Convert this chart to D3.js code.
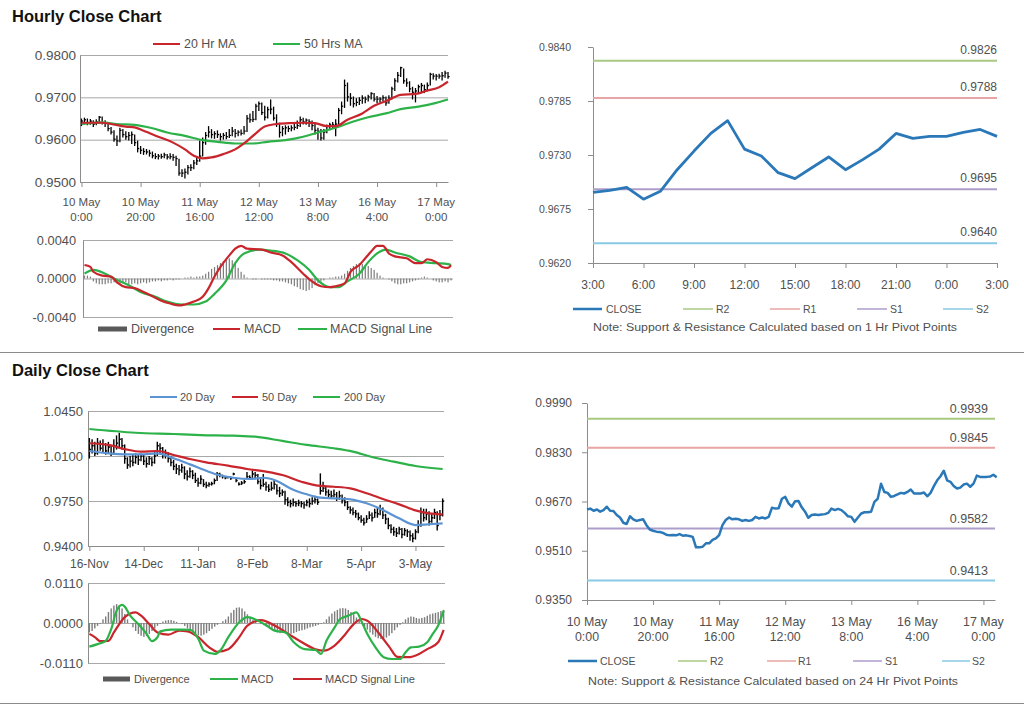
<!DOCTYPE html>
<html><head><meta charset="utf-8">
<script src="https://cdn.jsdelivr.net/npm/d3@7"></script>
<style>body{margin:0;background:#fff;} svg{display:block;font-family:"Liberation Sans",Arial,sans-serif;}</style>
</head><body><svg id="c" width="1024" height="706"></svg>
<script>
// ---------------- DATA ----------------
// Hourly (10 May 0:00 .. 17 May 4:00), trading hours index
const hClose = [0.9644,0.9647,0.9640,0.9644,0.9637,0.9642,0.9653,0.9640,0.9639,0.9626,
0.9618,0.9601,0.9597,0.9622,0.9612,0.9607,0.9610,0.9612,0.9593,0.9579,
0.9575,0.9572,0.9571,0.9568,0.9562,0.9560,0.9561,0.9560,0.9564,0.9559,
0.9560,0.9558,0.9555,0.9521,0.9521,0.9523,0.9534,0.9534,0.9545,0.9550,
0.9561,0.9593,0.9610,0.9618,0.9612,0.9614,0.9612,0.9607,0.9610,0.9607,
0.9610,0.9620,0.9615,0.9618,0.9615,0.9620,0.9650,0.9647,0.9648,0.9679,
0.9685,0.9664,0.9653,0.9671,0.9672,0.9651,0.9637,0.9617,0.9626,0.9628,
0.9626,0.9628,0.9629,0.9633,0.9647,0.9642,0.9646,0.9642,0.9633,0.9622,
0.9620,0.9604,0.9618,0.9631,0.9635,0.9635,0.9637,0.9669,0.9679,0.9728,
0.9701,0.9698,0.9685,0.9688,0.9693,0.9698,0.9696,0.9701,0.9709,0.9696,
0.9696,0.9696,0.9699,0.9687,0.9698,0.9720,0.9739,0.9752,0.9770,0.9739,
0.9734,0.9720,0.9712,0.9715,0.9725,0.9728,0.9718,0.9728,0.9754,0.9750,
0.9750,0.9750,0.9751,0.9757,0.9749];
const hHigh = [0.9650,0.9652,0.9650,0.9649,0.9646,0.9648,0.9656,0.9655,0.9646,0.9641,
0.9630,0.9622,0.9610,0.9628,0.9625,0.9620,0.9618,0.9619,0.9612,0.9598,
0.9585,0.9580,0.9578,0.9576,0.9572,0.9568,0.9566,0.9567,0.9569,0.9566,
0.9568,0.9566,0.9562,0.9555,0.9530,0.9532,0.9540,0.9542,0.9552,0.9560,
0.9598,0.9605,0.9618,0.9632,0.9625,0.9620,0.9622,0.9615,0.9616,0.9618,
0.9625,0.9630,0.9625,0.9622,0.9624,0.9632,0.9658,0.9662,0.9668,0.9685,
0.9690,0.9688,0.9680,0.9678,0.9695,0.9678,0.9660,0.9640,0.9632,0.9634,
0.9633,0.9634,0.9640,0.9645,0.9655,0.9652,0.9650,0.9648,0.9645,0.9638,
0.9628,0.9625,0.9625,0.9636,0.9640,0.9642,0.9648,0.9675,0.9690,0.9742,
0.9735,0.9710,0.9702,0.9698,0.9700,0.9705,0.9702,0.9706,0.9712,0.9710,
0.9703,0.9700,0.9705,0.9702,0.9705,0.9725,0.9745,0.9760,0.9772,0.9768,
0.9745,0.9738,0.9725,0.9722,0.9730,0.9734,0.9730,0.9735,0.9758,0.9757,
0.9755,0.9756,0.9760,0.9763,0.9760];
const hLow = [0.9632,0.9636,0.9634,0.9635,0.9630,0.9634,0.9640,0.9636,0.9630,0.9620,
0.9612,0.9595,0.9585,0.9594,0.9605,0.9600,0.9598,0.9590,0.9585,0.9570,
0.9566,0.9564,0.9565,0.9560,0.9556,0.9554,0.9553,0.9555,0.9556,0.9553,
0.9554,0.9550,0.9538,0.9515,0.9512,0.9508,0.9518,0.9526,0.9530,0.9540,
0.9548,0.9560,0.9588,0.9605,0.9603,0.9602,0.9604,0.9598,0.9600,0.9601,
0.9604,0.9608,0.9605,0.9608,0.9610,0.9612,0.9618,0.9640,0.9642,0.9646,
0.9668,0.9658,0.9645,0.9650,0.9660,0.9645,0.9630,0.9605,0.9608,0.9612,
0.9618,0.9620,0.9622,0.9625,0.9630,0.9636,0.9635,0.9630,0.9622,0.9612,
0.9600,0.9598,0.9600,0.9615,0.9622,0.9625,0.9608,0.9632,0.9660,0.9675,
0.9690,0.9680,0.9676,0.9679,0.9682,0.9685,0.9686,0.9690,0.9695,0.9690,
0.9686,0.9688,0.9690,0.9680,0.9685,0.9695,0.9715,0.9735,0.9748,0.9732,
0.9725,0.9712,0.9695,0.9688,0.9708,0.9712,0.9710,0.9714,0.9728,0.9742,
0.9740,0.9744,0.9740,0.9746,0.9744];
const hMA20 = [[0,0.9640],[7,0.9640],[10,0.9637],[15,0.9631],[18,0.9629],[21,0.9621],[26,0.9607],[31,0.9593],[35,0.9577],[38,0.9562],[41,0.9556],[44,0.9558],[48,0.9566],[52,0.9577],[55,0.9591],[59,0.9615],[62,0.9631],[66,0.9637],[70,0.9639],[75,0.9640],[79,0.9639],[83,0.9632],[86,0.9632],[90,0.9647],[95,0.9662],[99,0.9680],[104,0.9694],[108,0.9706],[113,0.9708],[117,0.9716],[121,0.9724],[124,0.9737]];
const hMA50 = [[0,0.9637],[7,0.9641],[12,0.9637],[18,0.9635],[24,0.9627],[29,0.9617],[35,0.9609],[41,0.9599],[46,0.9595],[52,0.9591],[58,0.9591],[63,0.9595],[69,0.9599],[75,0.9607],[80,0.9617],[86,0.9628],[92,0.9643],[97,0.9653],[103,0.9662],[108,0.9672],[114,0.9678],[120,0.9687],[124,0.9695]];
const hMacd = [[0,0.0014],[2,0.0012],[3,0.0007],[6,0.0003],[9,0.0002],[11,-0.0004],[14,-0.0009],[17,-0.0010],[20,-0.0014],[24,-0.0020],[26,-0.0023],[29,-0.0026],[32,-0.0028],[34,-0.0027],[37,-0.0024],[40,-0.0019],[42,-0.0010],[44,0.0002],[46,0.0012],[49,0.0024],[51,0.0031],[53,0.0034],[55,0.0031],[60,0.0030],[63,0.0027],[67,0.0024],[70,0.0017],[74,0.0005],[77,-0.0003],[80,-0.0008],[83,-0.0009],[85,-0.0008],[88,-0.0005],[90,0.0007],[93,0.0014],[95,0.0021],[97,0.0028],[99,0.0034],[101,0.0034],[103,0.0026],[105,0.0023],[109,0.0021],[112,0.0016],[114,0.0016],[116,0.0020],[119,0.0017],[121,0.0012],[123,0.0011],[124,0.0014]];
const hSignal = [[0,0.0005],[3,0.0009],[7,0.0005],[10,0.0000],[15,-0.0007],[19,-0.0014],[24,-0.0019],[28,-0.0024],[33,-0.0027],[37,-0.0027],[41,-0.0024],[44,-0.0016],[48,-0.0002],[51,0.0016],[54,0.0026],[59,0.0030],[63,0.0029],[68,0.0026],[72,0.0019],[76,0.0009],[79,-0.0002],[83,-0.0009],[86,-0.0009],[89,-0.0003],[93,0.0005],[96,0.0017],[99,0.0026],[102,0.0030],[105,0.0027],[110,0.0023],[114,0.0017],[119,0.0016],[123,0.0015],[124,0.0014]];
const hDiv = [0.0003,0.0003,0.0002,-0.0003,-0.0005,-0.0006,-0.0006,-0.0006,-0.0005,-0.0005,
-0.0004,-0.0005,-0.0006,-0.0005,-0.0004,-0.0006,-0.0006,-0.0005,-0.0006,-0.0005,
-0.0004,-0.0005,-0.0004,-0.0003,-0.0003,-0.0002,-0.0003,-0.0002,-0.0002,-0.0001,
-0.0002,-0.0001,-0.0001,0.0000,0.0001,0.0001,0.0002,0.0001,0.0002,0.0002,
0.0003,0.0005,0.0007,0.0010,0.0012,0.0014,0.0016,0.0018,0.0020,0.0021,
0.0019,0.0015,0.0011,0.0007,0.0004,0.0001,0.0000,-0.0001,-0.0001,0.0000,
-0.0001,-0.0001,-0.0001,-0.0001,-0.0002,-0.0002,-0.0003,-0.0003,-0.0004,-0.0005,
-0.0006,-0.0008,-0.0009,-0.0011,-0.0012,-0.0013,-0.0012,-0.0010,-0.0007,-0.0005,
-0.0003,-0.0002,0.0000,0.0001,0.0001,0.0002,0.0002,0.0003,0.0005,0.0008,
0.0011,0.0013,0.0015,0.0016,0.0015,0.0014,0.0013,0.0011,0.0009,0.0006,
0.0003,0.0001,0.0000,-0.0001,-0.0003,-0.0005,-0.0006,-0.0006,-0.0005,-0.0005,
-0.0004,-0.0003,-0.0002,-0.0001,0.0001,0.0002,0.0001,0.0000,-0.0002,-0.0003,
-0.0004,-0.0004,-0.0003,-0.0004,-0.0002];
const hTickIdx = [0,20,40,60,80,100,120];
const hTickLabels = [["10 May","0:00"],["10 May","20:00"],["11 May","16:00"],["12 May","12:00"],["13 May","8:00"],["16 May","4:00"],["17 May","0:00"]];

// 1 Hr pivot chart (last 24 hours)
const pClose = [0.9692,0.9694,0.9697,0.9685,0.9693,0.9715,0.9734,0.9752,0.9765,0.9736,0.9729,0.9712,0.9706,0.9717,0.9728,0.9715,0.9725,0.9736,0.9752,0.9747,0.9749,0.9749,0.9753,0.9756,0.9749];
const pTickLabels = ["3:00","6:00","9:00","12:00","15:00","18:00","21:00","0:00","3:00"];
const levelNames = ["R2","R1","S1","S2"];
const hrLevels = [0.9826,0.9788,0.9695,0.9640];
const dayLevels = [0.9939,0.9845,0.9582,0.9413];

// Daily (16-Nov .. 17-May), trading day index
const dClose = [1.0150,1.0180,1.0120,1.0200,1.0160,1.0190,1.0140,1.0170,1.0120,1.0180,
1.0200,1.0230,1.0180,1.0080,1.0030,1.0060,1.0050,1.0090,1.0070,1.0100,
1.0060,1.0040,1.0080,1.0050,1.0100,1.0180,1.0160,1.0110,1.0120,1.0080,
1.0050,1.0020,1.0000,0.9990,1.0010,0.9960,0.9940,0.9980,0.9950,0.9910,
0.9890,0.9920,0.9880,0.9870,0.9880,0.9885,0.9910,0.9960,0.9950,0.9940,
0.9930,0.9935,0.9925,0.9960,0.9910,0.9880,0.9890,0.9900,0.9940,0.9930,
0.9960,0.9950,0.9900,0.9870,0.9880,0.9860,0.9840,0.9850,0.9880,0.9830,
0.9810,0.9820,0.9760,0.9740,0.9730,0.9740,0.9730,0.9735,0.9730,0.9720,
0.9740,0.9730,0.9750,0.9760,0.9740,0.9830,0.9850,0.9820,0.9800,0.9790,
0.9800,0.9770,0.9790,0.9760,0.9740,0.9700,0.9680,0.9660,0.9650,0.9620,
0.9600,0.9580,0.9610,0.9640,0.9620,0.9660,0.9650,0.9690,0.9640,0.9610,
0.9560,0.9530,0.9510,0.9500,0.9530,0.9490,0.9520,0.9510,0.9480,0.9460,
0.9510,0.9560,0.9660,0.9620,0.9650,0.9590,0.9620,0.9660,0.9560,0.9640,
0.9749];
const dHigh = [1.0240,1.0230,1.0210,1.0240,1.0220,1.0230,1.0200,1.0210,1.0180,1.0230,
1.0260,1.0280,1.0240,1.0190,1.0090,1.0100,1.0110,1.0120,1.0110,1.0120,
1.0110,1.0090,1.0100,1.0090,1.0130,1.0210,1.0200,1.0170,1.0150,1.0130,
1.0100,1.0070,1.0040,1.0030,1.0040,1.0020,0.9990,1.0010,0.9990,0.9970,
0.9930,0.9950,0.9920,0.9900,0.9895,0.9900,0.9925,0.9975,0.9970,0.9955,
0.9945,0.9945,0.9940,0.9970,0.9925,0.9895,0.9905,0.9915,0.9975,0.9950,
0.9985,0.9975,0.9960,0.9920,0.9960,0.9900,0.9880,0.9900,0.9920,0.9880,
0.9860,0.9840,0.9830,0.9780,0.9760,0.9770,0.9750,0.9760,0.9750,0.9745,
0.9760,0.9770,0.9780,0.9790,0.9770,0.9965,0.9900,0.9860,0.9840,0.9830,
0.9840,0.9820,0.9830,0.9800,0.9780,0.9750,0.9710,0.9700,0.9680,0.9660,
0.9640,0.9620,0.9640,0.9670,0.9660,0.9690,0.9700,0.9720,0.9700,0.9650,
0.9620,0.9570,0.9550,0.9540,0.9550,0.9540,0.9540,0.9530,0.9520,0.9500,
0.9530,0.9600,0.9700,0.9690,0.9690,0.9670,0.9650,0.9690,0.9670,0.9680,
0.9770];
const dLow = [1.0080,1.0120,1.0100,1.0110,1.0140,1.0130,1.0110,1.0120,1.0100,1.0110,
1.0150,1.0170,1.0150,1.0040,1.0000,1.0010,1.0020,1.0040,1.0030,1.0060,
1.0030,1.0010,1.0030,1.0020,1.0040,1.0100,1.0120,1.0080,1.0080,1.0050,
1.0020,0.9990,0.9960,0.9950,0.9970,0.9920,0.9910,0.9930,0.9920,0.9890,
0.9860,0.9880,0.9860,0.9850,0.9860,0.9870,0.9880,0.9905,0.9935,0.9925,
0.9920,0.9925,0.9915,0.9950,0.9895,0.9870,0.9875,0.9885,0.9925,0.9915,
0.9930,0.9920,0.9880,0.9840,0.9860,0.9830,0.9820,0.9830,0.9840,0.9800,
0.9780,0.9790,0.9720,0.9710,0.9700,0.9710,0.9705,0.9710,0.9700,0.9690,
0.9710,0.9700,0.9720,0.9730,0.9720,0.9800,0.9820,0.9790,0.9780,0.9770,
0.9780,0.9750,0.9760,0.9730,0.9710,0.9680,0.9650,0.9640,0.9620,0.9600,
0.9580,0.9560,0.9580,0.9610,0.9590,0.9620,0.9620,0.9640,0.9610,0.9570,
0.9530,0.9500,0.9480,0.9470,0.9490,0.9460,0.9480,0.9470,0.9440,0.9430,
0.9450,0.9500,0.9550,0.9590,0.9600,0.9560,0.9580,0.9610,0.9520,0.9600,
0.9630];
const dMA20 = [[0,1.0139],[7,1.0121],[13,1.0113],[19,1.0113],[25,1.0121],[31,1.0082],[37,1.0035],[43,0.9985],[48,0.9950],[53,0.9931],[59,0.9921],[64,0.9931],[69,0.9906],[74,0.9848],[80,0.9802],[85,0.9776],[90,0.9771],[96,0.9763],[102,0.9732],[108,0.9680],[114,0.9615],[120,0.9563],[125,0.9569],[130,0.9576]];
const dMA50 = [[0,1.0199],[7,1.0186],[13,1.0154],[19,1.0134],[25,1.0139],[31,1.0108],[37,1.0077],[43,1.0051],[51,1.0025],[58,0.9999],[65,0.9978],[71,0.9952],[78,0.9900],[84,0.9869],[90,0.9861],[96,0.9848],[102,0.9810],[108,0.9766],[114,0.9724],[120,0.9677],[125,0.9654],[130,0.9646]];
const dMA200 = [[0,1.0310],[17,1.0281],[31,1.0271],[41,1.0263],[53,1.0258],[61,1.0250],[71,1.0217],[80,1.0186],[90,1.0160],[97,1.0134],[104,1.0092],[112,1.0056],[120,1.0022],[130,0.9999]];
const dMacd = [[0,-0.0065],[3,-0.0058],[6,-0.0049],[8,-0.0017],[10,0.0034],[12,0.0050],[13,0.0045],[15,0.0020],[18,-0.0003],[21,-0.0030],[23,-0.0050],[25,-0.0039],[26,-0.0023],[30,-0.0018],[34,-0.0018],[37,-0.0019],[40,-0.0044],[42,-0.0076],[46,-0.0085],[48,-0.0076],[51,-0.0039],[55,0.0002],[58,0.0016],[62,0.0006],[65,-0.0007],[68,-0.0021],[72,-0.0026],[75,-0.0053],[79,-0.0072],[83,-0.0074],[85,-0.0085],[87,-0.0049],[90,-0.0012],[92,0.0011],[95,0.0020],[98,0.0029],[100,0.0002],[102,-0.0030],[105,-0.0067],[108,-0.0094],[111,-0.0099],[114,-0.0099],[116,-0.0081],[118,-0.0067],[121,-0.0065],[124,-0.0053],[126,-0.0030],[128,-0.0007],[130,0.0034]];
const dSignal = [[0,-0.0030],[2,-0.0039],[4,-0.0050],[7,-0.0049],[9,-0.0026],[13,0.0016],[17,0.0029],[19,0.0020],[22,-0.0003],[25,-0.0026],[29,-0.0032],[33,-0.0021],[36,-0.0023],[40,-0.0039],[44,-0.0067],[47,-0.0079],[51,-0.0072],[55,-0.0039],[58,-0.0007],[63,0.0008],[68,-0.0007],[73,-0.0030],[78,-0.0053],[83,-0.0072],[86,-0.0076],[90,-0.0062],[94,-0.0030],[97,-0.0003],[100,0.0011],[102,0.0006],[106,-0.0026],[110,-0.0065],[113,-0.0093],[117,-0.0094],[121,-0.0085],[124,-0.0072],[128,-0.0053],[130,-0.0019]];
const dDiv = [-0.0026,-0.0022,-0.0015,-0.0008,-0.0002,0.0010,0.0018,0.0030,0.0040,0.0048,
0.0052,0.0048,0.0040,0.0025,0.0010,0.0000,-0.0012,-0.0022,-0.0030,-0.0035,
-0.0038,-0.0036,-0.0030,-0.0022,-0.0015,-0.0008,-0.0002,0.0004,0.0007,0.0008,
0.0008,0.0006,0.0003,0.0000,-0.0003,-0.0008,-0.0015,-0.0020,-0.0025,-0.0030,
-0.0034,-0.0035,-0.0032,-0.0028,-0.0022,-0.0016,-0.0010,-0.0005,0.0000,0.0005,
0.0010,0.0018,0.0028,0.0036,0.0042,0.0043,0.0040,0.0032,0.0024,0.0015,
0.0008,0.0003,0.0000,-0.0003,-0.0006,-0.0010,-0.0014,-0.0018,-0.0022,-0.0026,
-0.0028,-0.0026,-0.0024,-0.0027,-0.0030,-0.0028,-0.0025,-0.0022,-0.0020,-0.0018,
-0.0015,-0.0012,-0.0010,-0.0008,-0.0005,-0.0002,0.0002,0.0010,0.0018,0.0026,
0.0032,0.0036,0.0040,0.0041,0.0040,0.0036,0.0030,0.0024,0.0015,0.0006,
-0.0002,-0.0010,-0.0018,-0.0026,-0.0032,-0.0038,-0.0042,-0.0044,-0.0043,-0.0040,
-0.0035,-0.0028,-0.0020,-0.0012,-0.0005,0.0002,0.0010,0.0015,0.0018,0.0017,
0.0014,0.0012,0.0014,0.0016,0.0020,0.0024,0.0026,0.0028,0.0030,0.0033,
0.0036];
const dTickIdx = [0,20,40,60,80,100,120];
const dTickLabels = ["16-Nov","14-Dec","11-Jan","8-Feb","8-Mar","5-Apr","3-May"];

// ---------------- DRAWING ----------------
const svg = d3.select("#c");
const GRID = "#a8a8a8", AXIS = "#8c8c8c", TXT = "#505050";
const RED = "#c8262c", GREEN = "#2db24a", BLUE20 = "#5b93d3", CLOSEC = "#2a78b8";
const LVLC = ["#a9c882","#e9a5a5","#ad9dcb","#88c9e3"];
const DIVC = "#7c7c7c";
const fmt4 = v => d3.format(".4f")(v).replace("\u2212", "-");

function text(x, y, s, size, o = {}) {
  return svg.append("text").attr("x", x).attr("y", y).attr("font-size", size)
    .attr("fill", o.fill || TXT).attr("text-anchor", o.anchor || "start")
    .attr("dominant-baseline", "central").attr("font-weight", o.weight || "normal").text(s);
}
function hline(x1, x2, y, c, w) {
  svg.append("line").attr("x1", x1).attr("x2", x2).attr("y1", y).attr("y2", y).attr("stroke", c).attr("stroke-width", w);
}
function styleAxis(a, size, fill) {
  a.select(".domain").attr("stroke", AXIS);
  a.selectAll(".tick line").attr("stroke", AXIS);
  a.selectAll("text").attr("font-size", size).attr("fill", fill || TXT).attr("font-family", null);
}
function gridY(y, x0, x1, ticks) {
  svg.append("g").attr("transform", `translate(${x0},0)`)
    .call(d3.axisLeft(y).tickValues(ticks).tickSize(-(x1 - x0)).tickFormat(""))
    .call(a => { a.select(".domain").remove(); a.selectAll(".tick line").attr("stroke", GRID); });
}
function leftAxis(y, x0, ticks, size, tick, pad) {
  svg.append("g").attr("transform", `translate(${x0},0)`)
    .call(d3.axisLeft(y).tickValues(ticks).tickSize(tick).tickSizeOuter(0).tickPadding(pad).tickFormat(fmt4))
    .call(a => styleAxis(a, size));
}
function bottomAxis(x, y0, ticks, tick) {
  svg.append("g").attr("transform", `translate(0,${y0})`)
    .call(d3.axisBottom(x).tickValues(ticks).tickSize(tick).tickSizeOuter(0).tickFormat(""))
    .call(a => styleAxis(a, 10));
}
function twoLineLabels(x, idx, labels, y1, y2, size) {
  idx.forEach((v, i) => { text(x(v), y1, labels[i][0], size, { anchor: "middle" }); text(x(v), y2, labels[i][1], size, { anchor: "middle" }); });
}
function pathPts(pts, x, y, color, w, curve) {
  svg.append("path").datum(pts).attr("fill", "none").attr("stroke", color).attr("stroke-width", w)
    .attr("stroke-linejoin", "round")
    .attr("d", d3.line().x(d => x(d[0])).y(d => y(d[1])).curve(curve || d3.curveMonotoneX));
}
function bars(hi, lo, cl, x, y, w) {
  const g = svg.append("g").attr("stroke", "#000").attr("stroke-width", w);
  hi.forEach((h, i) => {
    g.append("line").attr("x1", x(i)).attr("x2", x(i)).attr("y1", y(h)).attr("y2", y(lo[i]));
    g.append("line").attr("x1", x(i)).attr("x2", x(i) + 1.6).attr("y1", y(cl[i])).attr("y2", y(cl[i]));
  });
}
function divBars(vals, x, y, w) {
  svg.append("g").selectAll("rect").data(vals).join("rect")
    .attr("x", (d, i) => x(i) - w / 2).attr("width", w)
    .attr("y", d => y(Math.max(0, d))).attr("height", d => Math.abs(y(d) - y(0)))
    .attr("fill", DIVC);
}

// titles & separators
text(12, 16, "Hourly Close Chart", 16.5, { weight: "bold", fill: "#111" });
text(12, 370, "Daily Close Chart", 16.5, { weight: "bold", fill: "#111" });
hline(0, 1024, 352.5, "#8a8a8a", 1);
hline(0, 1024, 703.5, "#8a8a8a", 1);

// ===== Hourly price chart =====
{
  const x = d3.scaleLinear().domain([-0.5, 124]).range([80, 448]);
  const y = d3.scaleLinear().domain([0.95, 0.98]).range([182, 55]);
  gridY(y, 80, 448, [0.95, 0.96, 0.97, 0.98]);
  leftAxis(y, 80, [0.95, 0.96, 0.97, 0.98], 13.5, 0, 4);
  bottomAxis(x, 182, hTickIdx, 5);
  twoLineLabels(x, hTickIdx, hTickLabels, 202, 217, 11.5);
  bars(hHigh, hLow, hClose, x, y, 1.3);
  pathPts(hMA50, x, y, GREEN, 2.2);
  pathPts(hMA20, x, y, RED, 2.2);
  hline(153, 180, 44, RED, 2); text(184, 44, "20 Hr MA", 12.4);
  hline(273, 300, 44, GREEN, 2); text(304, 44, "50 Hrs MA", 12.4);
}
// ===== Hourly MACD =====
{
  const x = d3.scaleLinear().domain([-0.5, 124]).range([83, 451]);
  const y = d3.scaleLinear().domain([-0.004, 0.004]).range([317, 240]);
  gridY(y, 83, 453, [-0.004, 0, 0.004]);
  leftAxis(y, 83, [-0.004, 0, 0.004], 12.8, 0, 7);
  divBars(hDiv, x, y, 1.2);
  pathPts(hSignal, x, y, GREEN, 2.2);
  pathPts(hMacd, x, y, RED, 2.2);
  svg.append("rect").attr("x", 98).attr("y", 326.5).attr("width", 29).attr("height", 5).attr("fill", "#595959");
  text(131, 329, "Divergence", 12.5);
  hline(213, 240, 329, RED, 2); text(244, 329, "MACD", 12.5);
  hline(298, 327, 329, GREEN, 2); text(330, 329, "MACD Signal Line", 12.5);
}
// ===== 1 Hr pivot chart =====
{
  const x = d3.scaleLinear().domain([0, 24]).range([593, 997]);
  const y = d3.scaleLinear().domain([0.962, 0.984]).range([263, 47]);
  const ticks = [0.962, 0.9675, 0.973, 0.9785, 0.984];
  leftAxis(y, 593, ticks, 10.5, 5, 17);
  bottomAxis(x, 263, d3.range(0, 25, 3), 5);
  d3.range(0, 25, 3).forEach((v, i) => text(x(v), 285, pTickLabels[i], 12, { anchor: "middle" }));
  hrLevels.forEach((v, i) => {
    hline(593, 997, y(v), LVLC[i], 2);
    text(997, y(v) - 11, fmt4(v), 12, { anchor: "end" });
  });
  svg.append("path").datum(pClose).attr("fill", "none").attr("stroke", CLOSEC).attr("stroke-width", 2.8)
    .attr("stroke-linejoin", "round").attr("d", d3.line().x((d, i) => x(i)).y(d => y(d)));
  const ly = 309;
  hline(573, 602, ly, CLOSEC, 2.5); text(606, ly, "CLOSE", 10.5);
  [[683, 713, 716], [770, 800, 803], [857, 887, 890], [943, 973, 976]].forEach((p, i) => {
    hline(p[0], p[1], ly, LVLC[i], 1.5); text(p[2], ly, levelNames[i], 10.5);
  });
  text(775, 327, "Note: Support & Resistance Calculated based on 1 Hr Pivot Points", 11.5, { anchor: "middle" })
    .attr("textLength", 364).attr("lengthAdjust", "spacingAndGlyphs");
}
// ===== Daily price chart =====
{
  const x = d3.scaleLinear().domain([-0.5, 130.5]).range([88, 444]);
  const y = d3.scaleLinear().domain([0.94, 1.045]).range([546, 411]);
  const ticks = [0.94, 0.975, 1.01, 1.045];
  gridY(y, 88, 444, ticks);
  leftAxis(y, 88, ticks, 13, 0, 5);
  bottomAxis(x, 546, dTickIdx, 5);
  dTickIdx.forEach((v, i) => text(x(v), 564, dTickLabels[i], 12, { anchor: "middle" }));
  bars(dHigh, dLow, dClose, x, y, 1.4);
  pathPts(dMA200, x, y, GREEN, 2.2);
  pathPts(dMA50, x, y, RED, 2.2);
  pathPts(dMA20, x, y, BLUE20, 2.2);
  hline(150, 177, 397, BLUE20, 2); text(180, 397, "20 Day", 11);
  hline(232, 258, 397, RED, 2); text(262, 397, "50 Day", 11);
  hline(313, 340, 397, GREEN, 2); text(344, 397, "200 Day", 11);
}
// ===== Daily MACD =====
{
  const x = d3.scaleLinear().domain([-0.5, 130.5]).range([88, 445]);
  const y = d3.scaleLinear().domain([-0.011, 0.011]).range([663, 583]);
  const ticks = [-0.011, 0, 0.011];
  gridY(y, 88, 445, ticks);
  leftAxis(y, 88, ticks, 13, 0, 5);
  divBars(dDiv, x, y, 1.4);
  pathPts(dSignal, x, y, RED, 2.2);
  pathPts(dMacd, x, y, GREEN, 2.2);
  svg.append("rect").attr("x", 103).attr("y", 676.5).attr("width", 27).attr("height", 5).attr("fill", "#595959");
  text(134, 679, "Divergence", 11);
  hline(210, 238, 679, GREEN, 2); text(241, 679, "MACD", 11);
  hline(293, 322, 679, RED, 2); text(325, 679, "MACD Signal Line", 11);
}
// ===== 24 Hr pivot chart =====
{
  const x = d3.scaleLinear().domain([0, 123.5]).range([587, 995]);
  const y = d3.scaleLinear().domain([0.935, 0.999]).range([600, 403]);
  const ticks = [0.935, 0.951, 0.967, 0.983, 0.999];
  leftAxis(y, 587, ticks, 12, 5, 10);
  bottomAxis(x, 600, hTickIdx, 5);
  twoLineLabels(x, hTickIdx, hTickLabels, 622, 637, 12.4);
  dayLevels.forEach((v, i) => {
    hline(587, 995, y(v), LVLC[i], 2);
    text(988, y(v) - 10, fmt4(v), 12.5, { anchor: "end" });
  });
  svg.append("path").datum(hClose).attr("fill", "none").attr("stroke", CLOSEC).attr("stroke-width", 2.5)
    .attr("stroke-linejoin", "round").attr("d", d3.line().x((d, i) => x(i)).y(d => y(d)));
  const ly = 661;
  hline(568, 597, ly, CLOSEC, 2.5); text(600, ly, "CLOSE", 10.5);
  [[678, 707, 710], [767, 796, 798], [853, 882, 885], [942, 970, 972]].forEach((p, i) => {
    hline(p[0], p[1], ly, LVLC[i], 1.5); text(p[2], ly, levelNames[i], 10.5);
  });
  text(773, 681, "Note: Support & Resistance Calculated based on 24 Hr Pivot Points", 11.5, { anchor: "middle" })
    .attr("textLength", 370).attr("lengthAdjust", "spacingAndGlyphs");
}
</script></body></html>
